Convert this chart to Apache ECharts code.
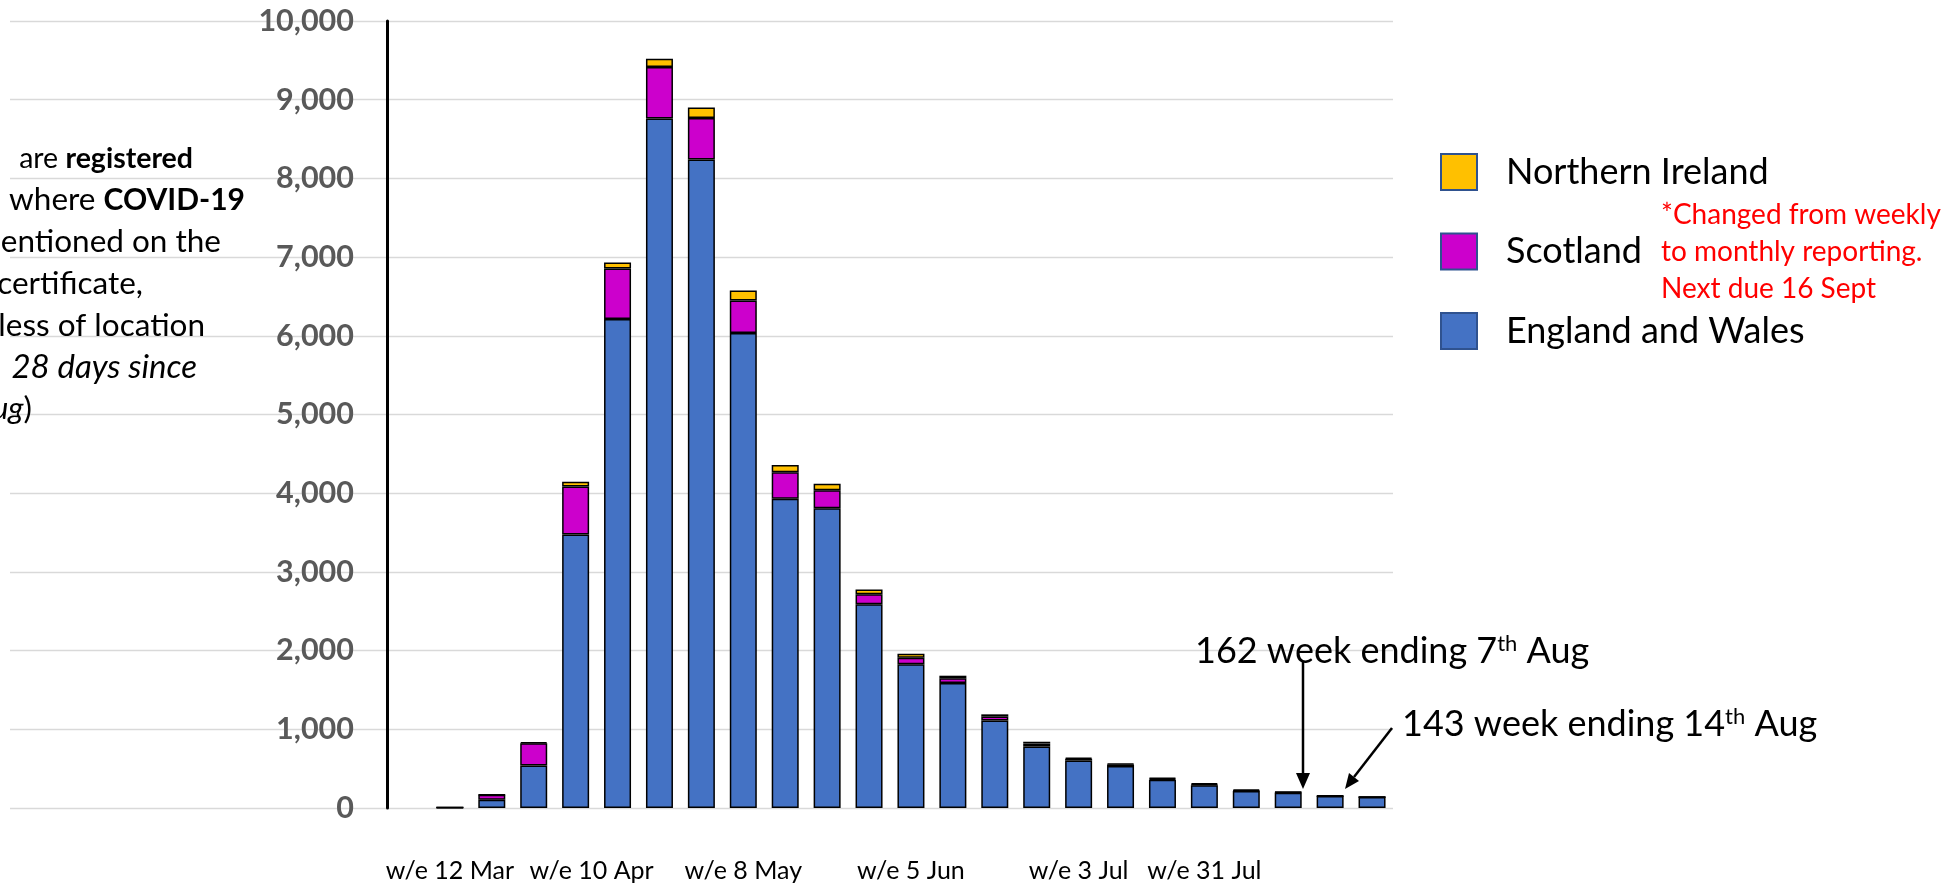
<!DOCTYPE html>
<html>
<head>
<meta charset="utf-8">
<script src="https://cdn.jsdelivr.net/npm/echarts@6/dist/echarts.min.js"></script>
<style>
  html, body { margin: 0; padding: 0; background: #ffffff; }
  #chart { width: 1954px; height: 891px; }
</style>
</head>
<body>
<div id="chart"></div>
<script>
// ---- data ----
const weeks = ['wk10','wk11','wk12','wk13','wk14','wk15','wk16','wk17','wk18','wk19','wk20','wk21',
               'wk22','wk23','wk24','wk25','wk26','wk27','wk28','wk29','wk30','wk31','wk32','wk33'];
const englandWales = [null, 5, 105, 540, 3475, 6215, 8760, 8240, 6035, 3930, 3810, 2590,
                      1825, 1588, 1112, 781, 603, 533, 360, 290, 215, 195, 152, 139];
const scotland     = [null, 0, 62, 282, 610, 640, 657, 528, 415, 335, 229, 127,
                      84, 60, 50, 40, 23, 20, 13, 10, 8, 5, 0, 0];
const northernIreland = [null, 1, 3, 13, 60, 76, 102, 132, 127, 93, 80, 60,
                      51, 33, 28, 21, 13, 10, 12, 14, 14, 7, 10, 4];
const tickLabels = ['w/e 12 Mar', 'w/e 10 Apr', 'w/e 8 May', 'w/e 5 Jun', 'w/e 3 Jul', 'w/e 31 Jul'];
const tickWeeks  = ['wk11', 'wk14', 'wk18', 'wk22', 'wk26', 'wk29'];
const yTicks = { min: 0, max: 10000, step: 1000 };
const seriesNames = ['England and Wales', 'Scotland', 'Northern Ireland'];

// ---- chart ----
const chart = echarts.init(document.getElementById('chart'), null, { renderer: 'canvas' });
const FONT = 'Lato';
const barStyle = (c) => ({ color: c, borderColor: '#000000', borderWidth: 1.5 });
const txt = (size, extra) => Object.assign({ fontFamily: FONT, fontSize: size, fill: '#000' }, extra || {});

const option = {
  animation: false,
  backgroundColor: '#ffffff',
  grid: [
    { left: 387, right: 561, top: 21, bottom: 83, containLabel: false },
    { left: 10, right: 561, top: 21, bottom: 83, containLabel: false }
  ],
  xAxis: [
    {
      type: 'category', gridIndex: 0, data: weeks,
      axisLine: { show: false }, axisTick: { show: false },
      axisLabel: {
        interval: 0, margin: 50, color: '#000000', fontFamily: FONT, fontSize: 25,
        formatter: function (v) {
          const k = tickWeeks.indexOf(v);
          if (k < 0) return '';
          return k === 1 ? '{r|' + tickLabels[k] + '}' : tickLabels[k];
        },
        rich: { r: { fontFamily: FONT, fontSize: 25, color: '#000000', padding: [0, 0, 0, 32] } }
      },
      splitLine: { show: false }
    },
    { type: 'value', gridIndex: 1, show: false, min: 0, max: 1 }
  ],
  yAxis: [
    {
      type: 'value', gridIndex: 0, min: yTicks.min, max: yTicks.max, interval: yTicks.step,
      axisLine: { show: true, lineStyle: { color: '#000000', width: 3 } },
      axisTick: { show: false },
      splitLine: { show: false },
      axisLabel: {
        margin: 33, color: '#595959', fontFamily: FONT, fontWeight: 'bold', fontSize: 30.5,
        formatter: (v) => v.toLocaleString('en-GB')
      }
    },
    {
      type: 'value', gridIndex: 1, min: yTicks.min, max: yTicks.max, interval: yTicks.step,
      axisLine: { show: false }, axisTick: { show: false }, axisLabel: { show: false },
      splitLine: { show: true, lineStyle: { color: '#D9D9D9', width: 1.3 } }
    }
  ],
  legend: {
    orient: 'vertical', left: 1440, top: 153, padding: 0,
    itemWidth: 36, itemHeight: 36, itemGap: 41.5, icon: 'rect',
    data: ['Northern Ireland', 'Scotland', 'England and Wales'],
    itemStyle: { borderColor: '#2F528F', borderWidth: 2 },
    textStyle: { fontFamily: FONT, fontSize: 36, color: '#000000', padding: [0, 0, 0, 24] },
    selectedMode: false
  },
  series: [
    { name: seriesNames[0], type: 'bar', stack: 'uk', data: englandWales, barWidth: 27,
      itemStyle: barStyle('#4472C4') },
    { name: seriesNames[1], type: 'bar', stack: 'uk', data: scotland, barWidth: 27,
      itemStyle: barStyle('#CC00CC') },
    { name: seriesNames[2], type: 'bar', stack: 'uk', data: northernIreland, barWidth: 27,
      itemStyle: barStyle('#FFC000') }
  ],
  graphic: [
    // left explanatory text (clipped by the left edge, as in the source slide)
    { type: 'text', z: 100, style: txt(28.5, { x: 193, y: 159, align: 'right', verticalAlign: 'middle',
        text: 'are {b|registered}', rich: { b: txt(28.5, { fontWeight: 'bold' }) } }) },
    { type: 'text', z: 100, style: txt(31.5, { x: 245, y: 200, align: 'right', verticalAlign: 'middle',
        text: 'where {b|COVID-19}', rich: { b: txt(30, { fontWeight: 'bold' }) } }) },
    { type: 'text', z: 100, style: txt(31.5, { x: 221, y: 242, align: 'right', verticalAlign: 'middle',
        text: 'was mentioned on the' }) },
    { type: 'text', z: 100, style: txt(31.5, { x: 143, y: 284, align: 'right', verticalAlign: 'middle',
        text: 'certificate,' }) },
    { type: 'text', z: 100, style: txt(31.5, { x: 205, y: 326, align: 'right', verticalAlign: 'middle',
        text: 'regardless of location' }) },
    { type: 'text', z: 100, style: txt(33, { x: 197, y: 367, align: 'right', verticalAlign: 'middle',
        text: '{i|28 days since}', rich: { i: txt(33, { fontStyle: 'italic' }) } }) },
    { type: 'text', z: 100, style: txt(31.5, { x: 32, y: 409, align: 'right', verticalAlign: 'middle',
        text: '{i|positive test, to 14 Aug})', rich: { i: txt(31.5, { fontStyle: 'italic' }) } }) },
    // red note next to Scotland
    { type: 'text', z: 100, style: { x: 1661, y: 196, align: 'left', verticalAlign: 'top',
        text: '*Changed from weekly\nto monthly reporting.\nNext due 16 Sept', lineHeight: 37,
        fontFamily: FONT, fontSize: 28, fill: '#FF0000' } },
    // annotations
    { type: 'text', z: 100, style: txt(36, { x: 1195, y: 651, align: 'left', verticalAlign: 'middle',
        text: '{n|162 week ending 7}{s|th}{n| Aug}',
        rich: { n: txt(36), s: txt(22, { verticalAlign: 'top' }) } }) },
    { type: 'text', z: 100, style: txt(36, { x: 1402, y: 724, align: 'left', verticalAlign: 'middle',
        text: '{n|143 week ending 14}{s|th}{n| Aug}',
        rich: { n: txt(36), s: txt(22, { verticalAlign: 'top' }) } }) },
    { type: 'line', z: 100, shape: { x1: 1303, y1: 661, x2: 1303, y2: 776 },
      style: { stroke: '#000', lineWidth: 2.5 } },
    { type: 'polygon', z: 100, shape: { points: [[1296, 773], [1310, 773], [1303, 789]] },
      style: { fill: '#000' } },
    { type: 'line', z: 100, shape: { x1: 1392, y1: 728, x2: 1354, y2: 777 },
      style: { stroke: '#000', lineWidth: 2.5 } },
    { type: 'polygon', z: 100, shape: { points: [[1359, 781], [1349, 773], [1345, 789]] },
      style: { fill: '#000' } }
  ]
};
chart.setOption(option);
</script>
</body>
</html>
